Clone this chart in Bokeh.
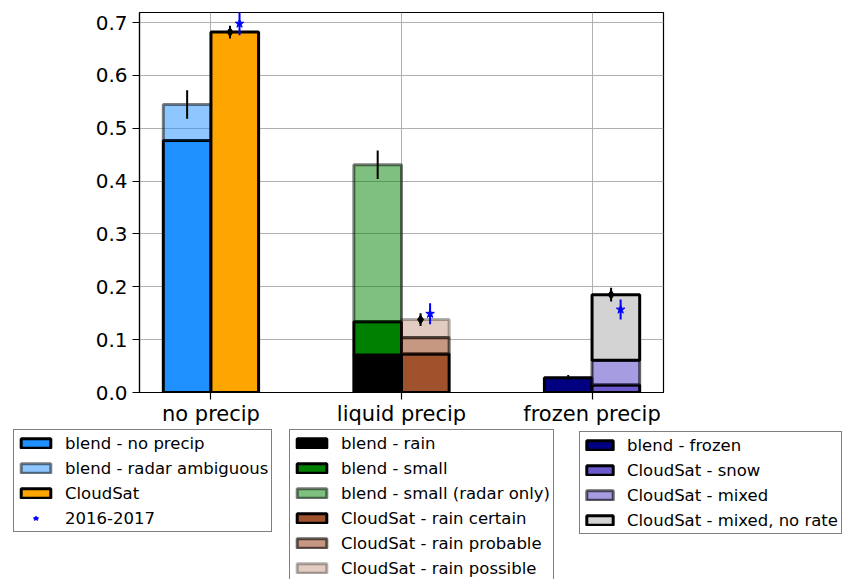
import numpy as np
from bokeh.plotting import figure
from bokeh.layouts import column, row
from bokeh.models import Legend, LegendItem, FixedTicker, Range1d, NumeralTickFormatter, Spacer
from bokeh.embed import file_html
from bokeh.resources import INLINE

# ---------------- data ----------------
categories = ["no precip", "liquid precip", "frozen precip"]

labels = ["blend - no precip", "blend - radar ambiguous", "CloudSat",
          "blend - rain", "blend - small", "blend - small (radar only)",
          "CloudSat - rain certain", "CloudSat - rain probable", "CloudSat - rain possible",
          "blend - frozen", "CloudSat - snow", "CloudSat - mixed", "CloudSat - mixed, no rate"]
label_category = ["no precip", "no precip", "no precip",
                  "liquid precip", "liquid precip", "liquid precip",
                  "liquid precip", "liquid precip", "liquid precip",
                  "frozen precip", "frozen precip", "frozen precip", "frozen precip"]
label_source = ["blend", "blend", "CloudSat",
                "blend", "blend", "blend",
                "CloudSat", "CloudSat", "CloudSat",
                "blend", "CloudSat", "CloudSat", "CloudSat"]
fractions = [0.477, 0.068, 0.682,
             0.071, 0.063, 0.297,
             0.073, 0.031, 0.034,
             0.028, 0.014, 0.047, 0.124]

blend_total_err = [0.027, 0.027, 0.005]
cloudsat_total_err = [0.012, 0.012, 0.013]
y_2016_2017 = [0.698, 0.149, 0.157]
err_2016_2017 = [0.022, 0.020, 0.019]

y_ticks = [0.0, 0.1, 0.2, 0.3, 0.4, 0.5, 0.6, 0.7]

# ---------------- styles ----------------
fill_colors = ["#1e90ff", "#1e90ff", "#ffa500",
               "#000000", "#008000", "#008000",
               "#a0522d", "#a0522d", "#a0522d",
               "#000080", "#6a5acd", "#6a5acd", "#d3d3d3"]
alphas = [1, 0.5, 1,
          1, 1, 0.5,
          1, 0.6, 0.3,
          1, 1, 0.6, 1]
BAR_W = 0.25
side_offset = {"blend": -BAR_W / 2, "CloudSat": BAR_W / 2}
FONT = "DejaVu Sans"

p = figure(width=846, height=428, output_backend="svg", toolbar_location=None,
           x_range=Range1d(-0.375, 2.375), y_range=Range1d(0, 0.719),
           min_border_left=139, min_border_right=183, min_border_top=12,
           min_border_bottom=34)
p.background_fill_color = "white"
p.border_fill_color = "white"
p.outline_line_color = "black"
p.outline_line_width = 1.2

cat_index = {c: i for i, c in enumerate(categories)}

# bars (stacked)
stack_tops = {}
bar_geom = {}
for lab, cat, src, val, fc, a in zip(labels, label_category, label_source,
                                      fractions, fill_colors, alphas):
    key = (cat, src)
    bottom = stack_tops.get(key, 0.0)
    top = bottom + val
    stack_tops[key] = top
    xpos = cat_index[cat] + side_offset[src]
    bar_geom[lab] = (xpos, bottom, top)
    p.vbar(x=[xpos], bottom=[bottom], top=[top], width=BAR_W,
           fill_color=fc, fill_alpha=a, line_color="black", line_alpha=a,
           line_width=3)

idx = np.arange(len(categories))
blend_tot = np.array([stack_tops[(c, "blend")] for c in categories])
cs_tot = np.array([stack_tops[(c, "CloudSat")] for c in categories])
be = np.array(blend_total_err)
ce = np.array(cloudsat_total_err)
y16 = np.array(y_2016_2017)
e16 = np.array(err_2016_2017)

# blend total error bars
p.segment(x0=idx - 0.125, y0=blend_tot - be, x1=idx - 0.125, y1=blend_tot + be,
          line_color="black", line_width=2)
# CloudSat total error bars
p.segment(x0=idx + 0.1, y0=cs_tot - ce, x1=idx + 0.1, y1=cs_tot + ce,
          line_color="black", line_width=2)
p.scatter(x=idx + 0.1, y=cs_tot, marker="diamond", size=9,
          fill_color="black", line_color="black")
# 2016-2017
p.segment(x0=idx + 0.15, y0=y16 - e16, x1=idx + 0.15, y1=y16 + e16,
          line_color="blue", line_width=2)
p.scatter(x=idx + 0.15, y=y16, marker="star", size=9,
          fill_color="blue", line_color="blue")

# axes
p.xaxis.ticker = FixedTicker(ticks=list(idx))
p.xaxis.major_label_overrides = {int(i): c for i, c in zip(idx, categories)}
p.yaxis.ticker = FixedTicker(ticks=y_ticks)
p.yaxis.formatter = NumeralTickFormatter(format="0.0")
for ax in (p.xaxis[0], p.yaxis[0]):
    ax.major_label_text_font = FONT
    ax.major_label_text_color = "black"
    ax.axis_line_color = "black"
    ax.axis_line_width = 1.2
    ax.major_tick_line_color = "black"
    ax.major_tick_line_width = 1.2
    ax.major_tick_out = 7
    ax.major_tick_in = 0
    ax.minor_tick_out = 0
    ax.minor_tick_in = 0
p.xaxis.major_label_text_font_size = "21px"
p.yaxis.major_label_text_font_size = "20px"
p.xaxis.major_label_standoff = 2
p.yaxis.major_label_standoff = 5

p.xgrid.ticker = FixedTicker(ticks=list(idx))
p.ygrid.ticker = FixedTicker(ticks=y_ticks)
for g in (p.xgrid[0], p.ygrid[0]):
    g.grid_line_color = "#b0b0b0"
    g.grid_line_width = 1


# ---------------- legends (one small panel per legend box) ----------------
def legend_panel(names, width, height, margin, glyph_w=37, standoff=11,
                 with_2016=False):
    f = figure(width=width, height=height, output_backend="svg",
               toolbar_location=None, x_axis_location=None, y_axis_location=None,
               min_border_left=0, min_border_right=0, min_border_top=0,
               min_border_bottom=0, x_range=Range1d(-0.375, 2.375),
               y_range=Range1d(0, 0.719))
    f.outline_line_color = None
    f.grid.visible = False
    f.background_fill_color = "white"
    f.border_fill_color = "white"
    items = []
    for n in names:
        i = labels.index(n)
        xpos, b, t = bar_geom[n]
        r = f.vbar(x=[xpos], bottom=[b], top=[t], width=BAR_W,
                   fill_color=fill_colors[i], fill_alpha=alphas[i],
                   line_color="black", line_alpha=alphas[i], line_width=3,
                   visible=False)
        items.append(LegendItem(label=n, renderers=[r]))
    if with_2016:
        r1 = f.scatter(x=idx + 0.15, y=y16, marker="dash", angle=np.pi / 2,
                       size=12, line_color="blue", line_width=2, visible=False)
        r2 = f.scatter(x=idx + 0.15, y=y16, marker="star", size=9,
                       fill_color="blue", line_color="blue", visible=False)
        items.append(LegendItem(label="2016-2017", renderers=[r1, r2]))
    leg = Legend(items=items, location="top_left", margin=margin, padding=3,
                 spacing=5, label_height=20, glyph_height=12,
                 glyph_width=glyph_w, label_standoff=standoff,
                 label_text_font=FONT, label_text_font_size="16.5px",
                 label_text_color="black", border_line_color="black",
                 border_line_width=1.5, background_fill_color="white",
                 background_fill_alpha=1, click_policy="none")
    f.add_layout(leg, "center")
    return f


LEG_H = 151
f1 = legend_panel(labels[0:3], 262, LEG_H, 1, with_2016=True)
f2 = legend_panel(labels[3:9], 270, LEG_H, 1)
f3 = legend_panel(labels[9:13], 270, LEG_H, 3, glyph_w=33, standoff=11)

legend_row = row(Spacer(width=12, height=LEG_H), f1,
                 Spacer(width=14, height=LEG_H), f2,
                 Spacer(width=18, height=LEG_H), f3)
layout = column(p, legend_row)

open("out.html", "w").write(file_html(layout, INLINE))
